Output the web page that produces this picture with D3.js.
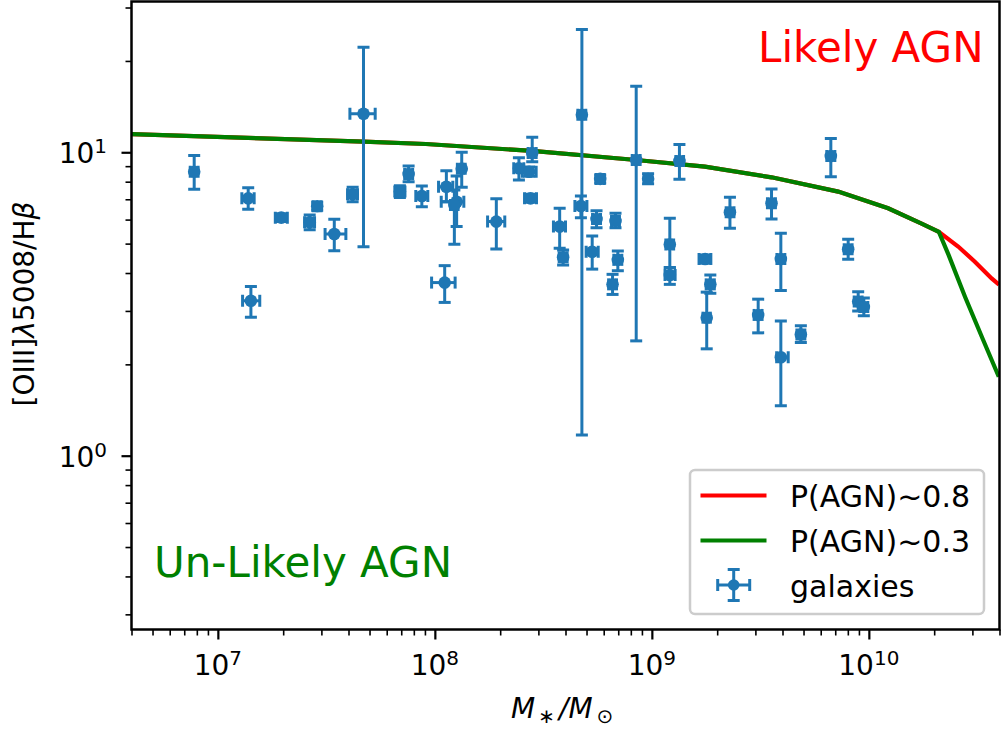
<!DOCTYPE html>
<html>
<head>
<meta charset="utf-8">
<script src="https://cdn.jsdelivr.net/npm/d3@7"></script>
<style>
body { margin: 0; background: #fff; }
svg { display: block; font-family: 'DejaVu Sans', sans-serif; }
</style>
</head>
<body>
<svg width="1001" height="734"></svg>
<script>
// galaxies: stellar mass, [OIII]/Hbeta ratio and the ends of their error bars
var mass   = [7.78e6, 1.38e7, 1.96e7, 2.65e7, 2.87e7, 3.44e7, 4.69e7, 4.18e7, 1.42e7, 6.90e7,
              7.57e7, 8.71e7, 1.33e8, 1.13e8, 1.26e8, 1.23e8, 1.92e8, 1.11e8, 2.44e8, 2.72e8,
              2.81e8, 2.76e8, 4.76e8, 4.71e8, 3.76e8, 3.90e8, 5.31e8, 5.78e8, 5.56e8, 6.80e8,
              6.97e8, 6.59e8, 8.47e8, 9.61e8, 1.34e9, 1.21e9, 1.21e9, 1.76e9, 1.86e9, 1.79e9,
              2.29e9, 3.56e9, 6.68e9, 3.93e9, 8.03e9, 8.93e9, 9.48e9, 3.09e9, 3.93e9, 4.86e9]
var massLo = [7.46e6, 1.29e7, 1.84e7, 2.51e7, 2.75e7, 3.12e7, 4.06e7, 3.96e7, 1.30e7, 6.54e7,
              7.26e7, 8.17e7, 1.27e8, 1.04e8, 1.07e8, 1.18e8, 1.75e8, 9.66e7, 2.31e8, 2.53e8,
              2.69e8, 2.59e8, 4.56e8, 4.42e8, 3.52e8, 3.74e8, 4.98e8, 5.54e8, 5.33e8, 6.52e8,
              6.68e8, 6.32e8, 8.12e8, 9.21e8, 1.29e9, 1.16e9, 1.15e9, 1.65e9, 1.78e9, 1.72e9,
              2.20e9, 3.41e9, 6.40e9, 3.77e9, 7.70e9, 8.56e9, 9.09e9, 2.96e9, 3.76e9, 4.66e9]
var massHi = [8.11e6, 1.47e7, 2.09e7, 2.79e7, 2.99e7, 3.89e7, 5.31e7, 4.40e7, 1.56e7, 7.28e7,
              7.90e7, 9.28e7, 1.38e8, 1.21e8, 1.36e8, 1.28e8, 2.10e8, 1.24e8, 2.57e8, 2.93e8,
              2.93e8, 2.94e8, 4.96e8, 5.02e8, 4.00e8, 4.07e8, 5.66e8, 6.03e8, 5.80e8, 7.09e8,
              7.27e8, 6.87e8, 8.83e8, 1.00e9, 1.40e9, 1.26e9, 1.28e9, 1.87e9, 1.94e9, 1.86e9,
              2.39e9, 3.71e9, 6.97e9, 4.10e9, 8.37e9, 9.31e9, 9.89e9, 3.22e9, 4.25e9, 5.07e9]
var ratio   = [8.63, 7.05, 6.09, 5.88, 6.64, 5.38, 13.4, 7.27, 3.24, 7.42,
               8.48, 7.18, 8.83, 7.70, 6.87, 6.70, 5.91, 3.72, 8.86, 8.63,
               9.95, 7.05, 13.3, 6.65, 5.69, 4.51, 4.70, 8.17, 6.03, 5.94,
               4.42, 3.67, 9.43, 8.18, 9.36, 4.97, 3.94, 4.45, 3.67, 2.85,
               6.34, 6.79, 9.72, 4.45, 4.79, 3.22, 3.09, 2.91, 2.11, 2.51]
var ratioLo = [7.55, 6.49, 5.91, 5.55, 6.44, 4.74, 4.88, 6.87, 2.86, 7.09,
               8.00, 6.62, 7.67, 6.87, 5.69, 4.98, 4.80, 3.20, 8.10, 8.33,
               9.31, 6.84, 1.17, 6.09, 4.83, 4.25, 4.12, 7.92, 5.64, 5.64,
               4.07, 3.40, 2.39, 7.88, 8.15, 4.17, 3.67, 4.31, 3.43, 2.25,
               5.62, 6.03, 8.31, 3.50, 4.44, 3.00, 2.89, 2.54, 1.46, 2.36]
var ratioHi = [9.75, 7.64, 6.27, 6.21, 6.84, 6.02, 22.2, 7.67, 3.61, 7.76,
               9.01, 7.74, 10.0, 8.70, 8.35, 7.51, 7.03, 4.23, 9.60, 8.94,
               11.2, 7.27, 25.4, 7.18, 6.54, 4.76, 5.30, 8.42, 6.42, 6.29,
               4.73, 3.96, 16.5, 8.50, 10.6, 6.06, 4.17, 4.59, 3.94, 3.46,
               7.11, 7.57, 11.1, 5.41, 5.17, 3.47, 3.31, 3.28, 2.78, 2.68]

// demarcation curves: shared part up to the split, then the two branches
var sharedMass  = [4.0e6, 4.69e7, 9.09e7, 2.81e8, 8.47e8, 1.755e9, 3.56e9, 7.22e9, 1.227e10, 1.75e10, 2.10e10]
var sharedRatio = [11.47, 10.84, 10.65, 10.10, 9.43, 8.97, 8.27, 7.42, 6.54, 5.82, 5.47]
var redMass   = [2.10e10, 2.58e10, 3.08e10, 3.68e10, 3.98e10]
var redRatio  = [5.47, 4.89, 4.36, 3.84, 3.66]
var greenMass  = [2.10e10, 2.33e10, 2.78e10, 3.36e10, 3.97e10]
var greenRatio = [5.47, 4.59, 3.33, 2.41, 1.82]

var xTicks = [1e7, 1e8, 1e9, 1e10]
var xExps = ['7', '8', '9', '10']
var yTicks = [1, 10]
var yExps = ['0', '1']

var blue = '#1f77b4'
var pLeft = 131.5, pRight = 999.5, pTop = 1.5, pBottom = 629.5

var svg = d3.select('svg')

var x = d3.scaleLog().domain([4e6, 4e10]).range([pLeft, pRight])
var y = d3.scaleLog().domain([0.2674, 31.4]).range([pBottom, pTop])

svg.append('clipPath')
    .attr('id', 'clip')
    .append('rect')
    .attr('x', pLeft)
    .attr('y', pTop)
    .attr('width', pRight - pLeft)
    .attr('height', pBottom - pTop)

var plot = svg.append('g').attr('clip-path', 'url(#clip)')

var line = d3.line()
    .x(function(d){ return x(d[0]) })
    .y(function(d){ return y(d[1]) })

var shared = d3.zip(sharedMass, sharedRatio)

plot.append('path')
    .datum(shared.concat(d3.zip(redMass, redRatio).slice(1)))
    .attr('d', line)
    .attr('fill', 'none')
    .attr('stroke', 'red')
    .attr('stroke-width', 4.2)

plot.append('path')
    .datum(shared.concat(d3.zip(greenMass, greenRatio).slice(1)))
    .attr('d', line)
    .attr('fill', 'none')
    .attr('stroke', 'green')
    .attr('stroke-width', 4.2)

/* error bars: bars first, then caps, then markers, as matplotlib does */
var pts = d3.range(mass.length)
var cap = 6

var bars = plot.append('g').attr('stroke', blue).attr('stroke-width', 3)
bars.selectAll('line.v')
    .data(pts)
    .enter()
    .append('line')
    .attr('x1', function(i){ return x(mass[i]) })
    .attr('x2', function(i){ return x(mass[i]) })
    .attr('y1', function(i){ return y(ratioLo[i]) })
    .attr('y2', function(i){ return y(ratioHi[i]) })
bars.selectAll('line.h')
    .data(pts)
    .enter()
    .append('line')
    .attr('x1', function(i){ return x(massLo[i]) })
    .attr('x2', function(i){ return x(massHi[i]) })
    .attr('y1', function(i){ return y(ratio[i]) })
    .attr('y2', function(i){ return y(ratio[i]) })

var caps = plot.append('g').attr('stroke', blue).attr('stroke-width', 3)
;[ratioLo, ratioHi].forEach(function(arr){
    caps.selectAll(null)
        .data(pts)
        .enter()
        .append('line')
        .attr('x1', function(i){ return x(mass[i]) - cap })
        .attr('x2', function(i){ return x(mass[i]) + cap })
        .attr('y1', function(i){ return y(arr[i]) })
        .attr('y2', function(i){ return y(arr[i]) })
})
;[massLo, massHi].forEach(function(arr){
    caps.selectAll(null)
        .data(pts)
        .enter()
        .append('line')
        .attr('x1', function(i){ return x(arr[i]) })
        .attr('x2', function(i){ return x(arr[i]) })
        .attr('y1', function(i){ return y(ratio[i]) - cap })
        .attr('y2', function(i){ return y(ratio[i]) + cap })
})

plot.append('g')
    .selectAll('circle')
    .data(pts)
    .enter()
    .append('circle')
    .attr('cx', function(i){ return x(mass[i]) })
    .attr('cy', function(i){ return y(ratio[i]) })
    .attr('r', 6.3)
    .attr('fill', blue)

// axes
var xMinor = x.ticks().filter(function(d){ return xTicks.indexOf(d) < 0 })
var yMinor = y.ticks().filter(function(d){ return yTicks.indexOf(d) < 0 })

function styleAxis(g, w) {
    g.select('.domain').remove()
    g.selectAll('line').attr('stroke', 'black').attr('stroke-width', w)
}

svg.append('g')
    .attr('transform', 'translate(0,' + pBottom + ')')
    .call(d3.axisBottom(x).tickValues(xMinor).tickSize(6).tickFormat(''))
    .call(styleAxis, 1.6)
svg.append('g')
    .attr('transform', 'translate(0,' + pBottom + ')')
    .call(d3.axisBottom(x).tickValues(xTicks).tickSize(10).tickFormat(''))
    .call(styleAxis, 2.2)
svg.append('g')
    .attr('transform', 'translate(' + pLeft + ',0)')
    .call(d3.axisLeft(y).tickValues(yMinor).tickSize(6).tickFormat(''))
    .call(styleAxis, 1.6)
svg.append('g')
    .attr('transform', 'translate(' + pLeft + ',0)')
    .call(d3.axisLeft(y).tickValues(yTicks).tickSize(10).tickFormat(''))
    .call(styleAxis, 2.2)

function sciLabel(t, exp) {
    t.append('tspan').text('10')
    t.append('tspan').attr('font-size', 20).attr('dy', -10).text(exp)
}

xTicks.forEach(function(v, i){
    var t = svg.append('text')
        .attr('x', x(v))
        .attr('y', 675)
        .attr('text-anchor', 'middle')
        .attr('font-size', 28)
    sciLabel(t, xExps[i])
})
yTicks.forEach(function(v, i){
    var t = svg.append('text')
        .attr('x', 107)
        .attr('y', y(v) + 11)
        .attr('text-anchor', 'end')
        .attr('font-size', 28)
    sciLabel(t, yExps[i])
})

svg.append('rect')
    .attr('x', pLeft)
    .attr('y', pTop)
    .attr('width', pRight - pLeft)
    .attr('height', pBottom - pTop)
    .attr('fill', 'none')
    .attr('stroke', 'black')
    .attr('stroke-width', 2.5)

// axis labels
var xl = svg.append('text')
    .attr('x', 511)
    .attr('y', 718)
    .attr('font-size', 28)
xl.append('tspan').attr('font-style', 'italic').text('M')
xl.append('tspan').attr('font-size', 20).attr('dx', 3).attr('dy', 5).text('\u2217')
xl.append('tspan').attr('font-style', 'italic').attr('dx', 4).attr('dy', -5).text('/')
xl.append('tspan').attr('font-style', 'italic').text('M')
xl.append('tspan').attr('font-size', 20).attr('dx', 4).attr('dy', 5).text('\u2299')

var yl = svg.append('text')
    .attr('transform', 'translate(33.5,304) rotate(-90)')
    .attr('text-anchor', 'middle')
    .attr('font-size', 28)
yl.append('tspan').text('[OIII]')
yl.append('tspan').attr('font-style', 'italic').text('\u03bb')
yl.append('tspan').text('5008/H')
yl.append('tspan').attr('font-style', 'italic').text('\u03b2')

// region annotations
svg.append('text')
    .attr('x', 758)
    .attr('y', 61.5)
    .attr('font-size', 42)
    .attr('fill', 'red')
    .text('Likely AGN')
svg.append('text')
    .attr('x', 154)
    .attr('y', 576.5)
    .attr('font-size', 42)
    .attr('fill', 'green')
    .text('Un-Likely AGN')

// legend
var lg = svg.append('g')
lg.append('rect')
    .attr('x', 690)
    .attr('y', 470)
    .attr('width', 294)
    .attr('height', 144)
    .attr('rx', 5)
    .attr('fill', 'white')
    .attr('fill-opacity', 0.8)
    .attr('stroke', '#cccccc')
    .attr('stroke-width', 2.5)

lg.append('line')
    .attr('x1', 700.5).attr('x2', 766.5)
    .attr('y1', 495.5).attr('y2', 495.5)
    .attr('stroke', 'red').attr('stroke-width', 4.2)
lg.append('line')
    .attr('x1', 700.5).attr('x2', 766.5)
    .attr('y1', 540.5).attr('y2', 540.5)
    .attr('stroke', 'green').attr('stroke-width', 4.2)

var gk = lg.append('g').attr('stroke', blue).attr('stroke-width', 3)
var cx = 733.7, cy = 585
gk.append('line').attr('x1', cx).attr('x2', cx).attr('y1', cy - 15.5).attr('y2', cy + 15.5)
gk.append('line').attr('x1', cx - 16).attr('x2', cx + 16).attr('y1', cy).attr('y2', cy)
gk.append('line').attr('x1', cx - cap).attr('x2', cx + cap).attr('y1', cy - 15.5).attr('y2', cy - 15.5)
gk.append('line').attr('x1', cx - cap).attr('x2', cx + cap).attr('y1', cy + 15.5).attr('y2', cy + 15.5)
gk.append('line').attr('x1', cx - 16).attr('x2', cx - 16).attr('y1', cy - cap).attr('y2', cy + cap)
gk.append('line').attr('x1', cx + 16).attr('x2', cx + 16).attr('y1', cy - cap).attr('y2', cy + cap)
lg.append('circle').attr('cx', cx).attr('cy', cy).attr('r', 5.8).attr('fill', blue)

var legendText = ['P(AGN)~0.8', 'P(AGN)~0.3', 'galaxies']
lg.selectAll('text.lab')
    .data(legendText)
    .enter()
    .append('text')
    .attr('x', 790)
    .attr('y', function(d, i){ return 506.5 + i * 45 })
    .attr('font-size', 30)
    .text(function(d){ return d })
</script>
</body>
</html>
